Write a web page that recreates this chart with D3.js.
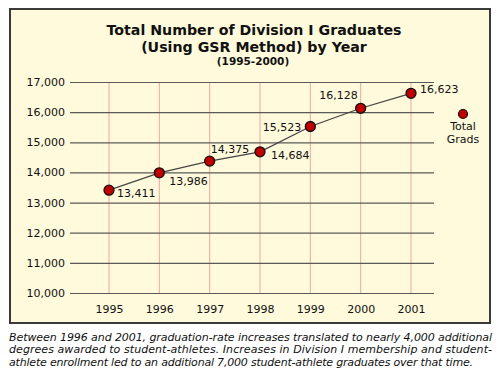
<!DOCTYPE html>
<html><head><meta charset="utf-8">
<script src="https://cdn.jsdelivr.net/npm/d3@7"></script>
<style>body{margin:0;background:#fff;}svg{display:block;}</style>
</head><body>
<svg id="c" width="500" height="379"></svg>
<script>
const years = [1995, 1996, 1997, 1998, 1999, 2000, 2001];
const grads = [13411, 13986, 14375, 14684, 15523, 16128, 16623];
const yTicks = [10000, 11000, 12000, 13000, 14000, 15000, 16000, 17000];
const labelPos = ["br", "br2", "tr", "r", "l", "tl", "r2"];
const titleLines = ["Total Number of Division I Graduates", "(Using GSR Method) by Year"];
const subtitle = "(1995-2000)";
const legendLines = ["Total", "Grads"];
const captionLines = [
  "Between 1996 and 2001, graduation-rate increases translated to nearly 4,000 additional",
  "degrees awarded to student-athletes. Increases in Division I membership and student-",
  "athlete enrollment led to an additional 7,000 student-athlete graduates over that time."
];

const svg = d3.select("#c");
const font = "'DejaVu Sans', Verdana, sans-serif";
const fmt = d3.format(",");

svg.append("rect").attr("x", 10).attr("y", 9).attr("width", 480).attr("height", 314)
  .attr("fill", "#fefadb").attr("stroke", "#3a3a3a").attr("stroke-width", 2);

const x = d3.scaleLinear().domain([1995, 2001]).range([109, 411]);
const y = d3.scaleLinear().domain([10000, 17000]).range([293, 82]);

svg.append("g").selectAll("line").data(years).join("line")
  .attr("x1", d => x(d)).attr("x2", d => x(d)).attr("y1", y(17000)).attr("y2", y(10000))
  .attr("stroke", "#f0a8a0").attr("stroke-width", 1);

const yAxis = d3.axisLeft(y).tickValues(yTicks).tickFormat(fmt).tickSize(-(434 - 70)).tickPadding(5);
const gy = svg.append("g").attr("transform", "translate(70,0)").call(yAxis);
gy.select(".domain").remove();
gy.selectAll(".tick line").attr("stroke", "#5a5a5a").attr("stroke-width", 1.2);
gy.selectAll(".tick text").attr("font-family", font).attr("font-size", 11).attr("fill", "#111");

const xAxis = d3.axisBottom(x).tickValues(years).tickFormat(d3.format("d")).tickSize(0).tickPadding(12);
const gx = svg.append("g").attr("transform", `translate(0,${y(10000)})`).call(xAxis);
gx.select(".domain").remove();
gx.selectAll(".tick text").attr("font-family", font).attr("font-size", 11).attr("fill", "#111");

const data = years.map((yr, i) => ({yr, v: grads[i], p: labelPos[i]}));
svg.append("path").datum(data)
  .attr("d", d3.line().x(d => x(d.yr)).y(d => y(d.v)))
  .attr("fill", "none").attr("stroke", "#444").attr("stroke-width", 1.2);

svg.append("g").selectAll("circle").data(data).join("circle")
  .attr("cx", d => x(d.yr)).attr("cy", d => y(d.v)).attr("r", 5)
  .attr("fill", "#c00000").attr("stroke", "#111").attr("stroke-width", 1.3);

const off = {br: [8, 7, "start"], br2: [10, 12, "start"], tr: [1, -8, "start"], r: [11, 7, "start"],
             l: [-9, 4, "end"], tl: [-3, -9, "end"], r2: [9, 0, "start"]};
svg.append("g").selectAll("text").data(data).join("text")
  .attr("x", d => x(d.yr) + off[d.p][0]).attr("y", d => y(d.v) + off[d.p][1])
  .attr("text-anchor", d => off[d.p][2])
  .attr("font-family", font).attr("font-size", 11).attr("fill", "#111")
  .text(d => fmt(d.v));

svg.append("circle").attr("cx", 463).attr("cy", 114).attr("r", 4.5)
  .attr("fill", "#c00000").attr("stroke", "#111").attr("stroke-width", 1.2);
svg.append("g").selectAll("text").data(legendLines).join("text")
  .attr("x", 463).attr("y", (d, i) => 130 + i * 13).attr("text-anchor", "middle")
  .attr("font-family", font).attr("font-size", 11).attr("fill", "#111").text(d => d);

svg.append("g").selectAll("text").data(titleLines).join("text")
  .attr("x", 254).attr("y", (d, i) => 35 + i * 17).attr("text-anchor", "middle")
  .attr("font-family", font).attr("font-weight", "bold").attr("font-size", 14.2).attr("fill", "#111")
  .text(d => d);
svg.append("text").attr("x", 253).attr("y", 64.5).attr("text-anchor", "middle")
  .attr("font-family", font).attr("font-weight", "bold").attr("font-size", 10.5).attr("fill", "#111")
  .text(subtitle);

const capW = [483, 483, 464];
svg.append("g").selectAll("text").data(captionLines).join("text")
  .attr("x", 9).attr("y", (d, i) => 340.5 + i * 12.5)
  .attr("font-family", font).attr("font-style", "italic").attr("font-size", 11).attr("fill", "#111")
  .attr("textLength", (d, i) => capW[i]).attr("lengthAdjust", "spacing")
  .text(d => d);
</script>
</body></html>
